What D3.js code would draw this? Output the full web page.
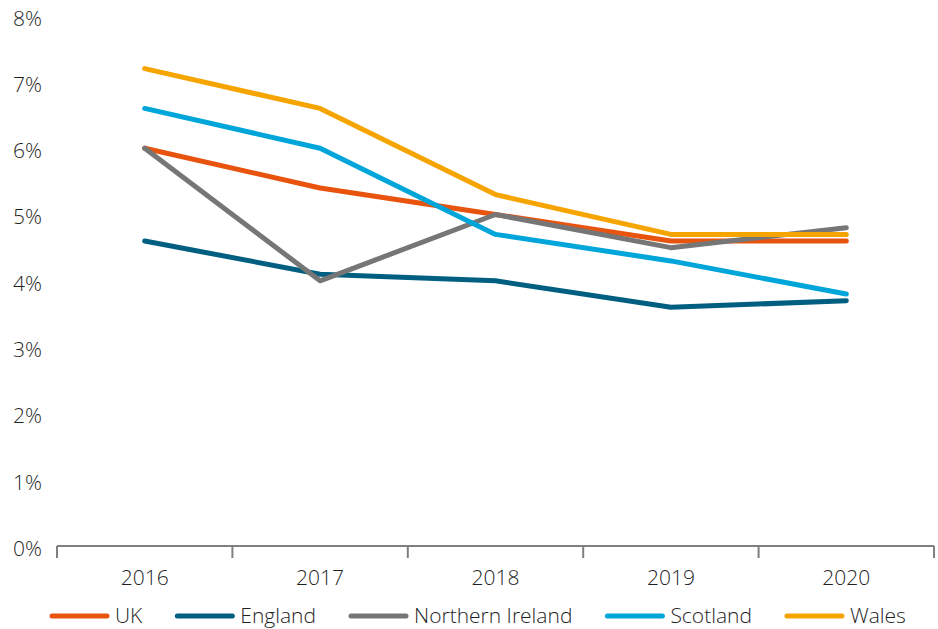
<!DOCTYPE html>
<html>
<head>
<meta charset="utf-8">
<script src="https://cdn.jsdelivr.net/npm/d3@7"></script>
<style>
  body { margin: 0; background: #fff; }
  svg text { font-family: "Open Sans", "Liberation Sans", Arial, sans-serif; font-weight: 300; fill: #1f1f1f; }
</style>
</head>
<body>
<div class="chart"></div>
<script>
// chart data
var years = ["2016", "2017", "2018", "2019", "2020"];
var seriesNames = ["UK", "England", "Northern Ireland", "Scotland", "Wales"];
var ukValues = [6.0, 5.4, 5.0, 4.6, 4.6];
var englandValues = [4.6, 4.1, 4.0, 3.6, 3.7];
var niValues = [6.0, 4.0, 5.0, 4.5, 4.8];
var scotlandValues = [6.6, 6.0, 4.7, 4.3, 3.8];
var walesValues = [7.2, 6.6, 5.3, 4.7, 4.7];
var yTicks = [0, 1, 2, 3, 4, 5, 6, 7, 8];

var colors = ["#E8530E", "#005F80", "#767676", "#00A5D9", "#F6A400"];
var allValues = [ukValues, englandValues, niValues, scotlandValues, walesValues];

var width = 938,
    height = 629,
    plotLeft = 57,
    plotRight = 934,
    plotTop = 15.6,
    plotBottom = 546,
    fontSize = "21px";

var svg = d3.select(".chart").append("svg")
            .attr("width", width)
            .attr("height", height);

// scales
var xScale = d3.scaleBand()
               .domain(years)
               .range([plotLeft, plotRight]);

var yScale = d3.scaleLinear()
               .domain([0, 8])
               .range([plotBottom, plotTop]);

// y-axis labels (no line)
var yAxis = d3.axisLeft(yScale)
              .tickValues(yTicks)
              .tickSize(0)
              .tickPadding(0)
              .tickFormat(function(d) { return d + "%"; });

var yAxisGroup = svg.append("g")
                    .attr("transform", "translate(42, 0)")
                    .call(yAxis);
yAxisGroup.select(".domain").remove();
yAxisGroup.selectAll("text")
          .attr("dy", "0.45em")
          .attr("fill", null)
          .style("font-size", fontSize);
yAxisGroup.attr("font-family", null).attr("font-size", null);

// x-axis line with category-boundary ticks
var xAxisGroup = svg.append("g").attr("class", "x-axis");
xAxisGroup.append("line")
          .attr("x1", plotLeft).attr("x2", plotRight)
          .attr("y1", plotBottom).attr("y2", plotBottom)
          .attr("stroke", "#7f7f7f")
          .attr("stroke-width", 2);

var boundaries = years.map(function(y) { return xScale(y); });
boundaries.push(xScale(years[years.length - 1]) + xScale.bandwidth());
xAxisGroup.selectAll(".tick-mark")
          .data(boundaries)
          .enter()
          .append("line")
          .attr("class", "tick-mark")
          .attr("x1", function(d) { return d; })
          .attr("x2", function(d) { return d; })
          .attr("y1", plotBottom)
          .attr("y2", plotBottom + 12)
          .attr("stroke", "#7f7f7f")
          .attr("stroke-width", 2);

xAxisGroup.selectAll(".x-label")
          .data(years)
          .enter()
          .append("text")
          .attr("class", "x-label")
          .attr("x", function(d) { return xScale(d) + xScale.bandwidth() / 2; })
          .attr("y", 585)
          .attr("text-anchor", "middle")
          .style("font-size", fontSize)
          .text(function(d) { return d; });

// lines
var line = d3.line()
             .x(function(d, i) { return xScale(years[i]) + xScale.bandwidth() / 2; })
             .y(function(d) { return yScale(d); });

svg.selectAll(".series")
   .data(allValues)
   .enter()
   .append("path")
   .attr("class", "series")
   .attr("d", function(d) { return line(d); })
   .attr("fill", "none")
   .attr("stroke", function(d, i) { return colors[i]; })
   .attr("stroke-width", 5)
   .attr("stroke-linecap", "round")
   .attr("stroke-linejoin", "round");

// legend
var legend = svg.append("g").attr("class", "legend");
var lx = 50,
    ly = 616;
seriesNames.forEach(function(name, i) {
  legend.append("line")
        .attr("x1", lx + 2).attr("x2", lx + 57)
        .attr("y1", ly).attr("y2", ly)
        .attr("stroke", colors[i])
        .attr("stroke-width", 5)
        .attr("stroke-linecap", "round");
  var t = legend.append("text")
                .attr("x", lx + 65)
                .attr("y", ly + 7)
                .style("font-size", fontSize)
                .text(name);
  lx = lx + 65 + t.node().getComputedTextLength() + 33;
});
</script>
</body>
</html>
